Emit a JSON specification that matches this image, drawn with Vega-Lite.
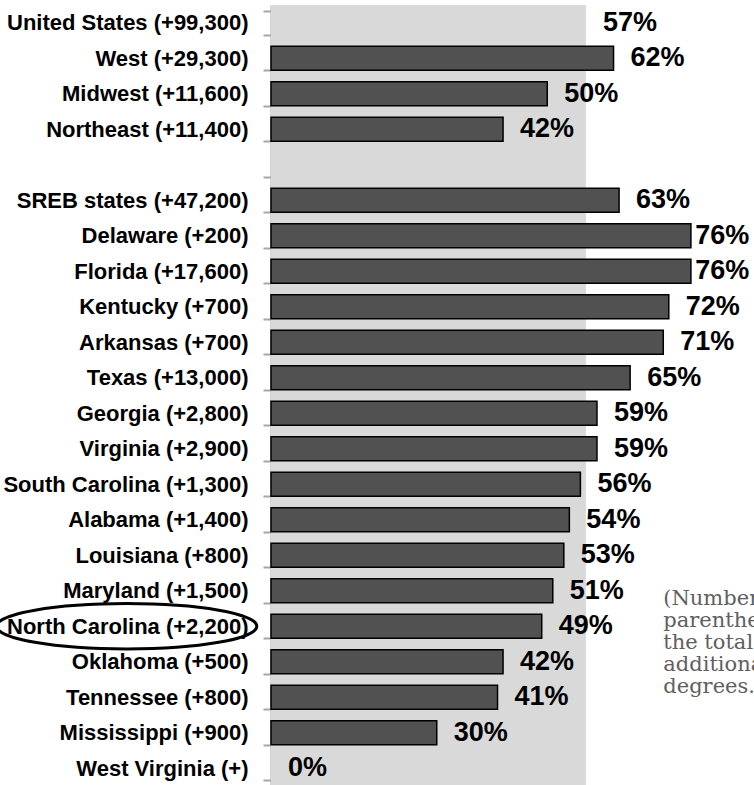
{
  "$schema": "https://vega.github.io/schema/vega-lite/v6.json",
  "width": 442,
  "height": 781,
  "autosize": {"type": "none"},
  "padding": {"left": 271, "top": 5, "right": 41, "bottom": 0},
  "background": "white",
  "config": {"view": {"stroke": null}, "font": "Liberation Sans"},
  "data": {
    "values": [
      {"label": "United States (+99,300)", "pct": 0.57, "zero": 0, "kind": "us"},
      {"label": "West (+29,300)", "pct": 0.62, "zero": 0, "kind": "row"},
      {"label": "Midwest (+11,600)", "pct": 0.50, "zero": 0, "kind": "row"},
      {"label": "Northeast (+11,400)", "pct": 0.42, "zero": 0, "kind": "row"},
      {"label": " ", "pct": null, "zero": 0, "kind": "blank"},
      {"label": "SREB states (+47,200)", "pct": 0.63, "zero": 0, "kind": "row"},
      {"label": "Delaware (+200)", "pct": 0.76, "zero": 0, "kind": "row"},
      {"label": "Florida (+17,600)", "pct": 0.76, "zero": 0, "kind": "row"},
      {"label": "Kentucky (+700)", "pct": 0.72, "zero": 0, "kind": "row"},
      {"label": "Arkansas (+700)", "pct": 0.71, "zero": 0, "kind": "row"},
      {"label": "Texas (+13,000)", "pct": 0.65, "zero": 0, "kind": "row"},
      {"label": "Georgia (+2,800)", "pct": 0.59, "zero": 0, "kind": "row"},
      {"label": "Virginia (+2,900)", "pct": 0.59, "zero": 0, "kind": "row"},
      {"label": "South Carolina (+1,300)", "pct": 0.56, "zero": 0, "kind": "row"},
      {"label": "Alabama (+1,400)", "pct": 0.54, "zero": 0, "kind": "row"},
      {"label": "Louisiana (+800)", "pct": 0.53, "zero": 0, "kind": "row"},
      {"label": "Maryland (+1,500)", "pct": 0.51, "zero": 0, "kind": "row"},
      {"label": "North Carolina (+2,200)", "pct": 0.49, "zero": 0, "kind": "row"},
      {"label": "Oklahoma (+500)", "pct": 0.42, "zero": 0, "kind": "row"},
      {"label": "Tennessee (+800)", "pct": 0.41, "zero": 0, "kind": "row"},
      {"label": "Mississippi (+900)", "pct": 0.30, "zero": 0, "kind": "row"},
      {"label": "West Virginia (+)", "pct": 0.0, "zero": 0, "kind": "row"}
    ]
  },
  "layer": [
    {
      "transform": [{"filter": "datum.kind == 'us'"}],
      "mark": {"type": "rect", "color": "#d9d9d9"},
      "encoding": {
        "x": {"field": "zero", "type": "quantitative", "scale": {"domain": [0, 0.8]}, "axis": null},
        "x2": {"field": "pct"}
      }
    },
    {
      "transform": [{"filter": "datum.kind == 'row' && datum.pct > 0"}],
      "mark": {"type": "bar", "color": "#515151", "stroke": "black", "strokeWidth": 1.5},
      "encoding": {
        "x": {"field": "pct", "type": "quantitative", "scale": {"domain": [0, 0.8]}, "axis": null},
        "y": {
          "field": "label",
          "type": "nominal",
          "sort": null,
          "scale": {
            "domain": ["United States (+99,300)", "West (+29,300)", "Midwest (+11,600)", "Northeast (+11,400)", " ", "SREB states (+47,200)", "Delaware (+200)", "Florida (+17,600)", "Kentucky (+700)", "Arkansas (+700)", "Texas (+13,000)", "Georgia (+2,800)", "Virginia (+2,900)", "South Carolina (+1,300)", "Alabama (+1,400)", "Louisiana (+800)", "Maryland (+1,500)", "North Carolina (+2,200)", "Oklahoma (+500)", "Tennessee (+800)", "Mississippi (+900)", "West Virginia (+)"],
            "paddingInner": 0.33,
            "paddingOuter": 0.165
          },
          "axis": {
            "title": null,
            "labelFont": "Liberation Sans",
            "labelFontSize": 22,
            "labelFontWeight": "bold",
            "labelColor": "black",
            "labelPadding": 15,
            "labelLimit": 400,
            "tickSize": 8,
            "tickColor": "#a6a6a6",
            "tickWidth": 2,
            "domainColor": "#a6a6a6",
            "domainWidth": 2,
            "tickBand": "extent",
            "grid": false
          }
        }
      }
    },
    {
      "transform": [
        {"filter": "datum.kind != 'blank'"},
        {"calculate": "min(datum.pct, 0.737)", "as": "labelPos"}
      ],
      "mark": {"type": "text", "align": "left", "baseline": "middle", "dx": 17, "fontSize": 27, "fontWeight": "bold", "color": "black", "font": "Liberation Sans"},
      "encoding": {
        "x": {"field": "labelPos", "type": "quantitative"},
        "y": {"field": "label", "type": "nominal", "sort": null},
        "text": {"field": "pct", "type": "quantitative", "format": ".0%"}
      }
    },
    {
      "transform": [{"filter": "datum.label == 'North Carolina (+2,200)'"}],
      "mark": {"type": "point", "shape": "M -1 0 A 1 0.175 0 1 0 1 0 A 1 0.175 0 1 0 -1 0 Z", "size": 67600, "filled": false, "stroke": "black", "strokeWidth": 3, "opacity": 1},
      "encoding": {
        "x": {"datum": -0.261, "type": "quantitative"},
        "y": {"field": "label", "type": "nominal", "sort": null}
      }
    },
    {
      "transform": [{"filter": "datum.label == 'Maryland (+1,500)'"}],
      "mark": {"type": "text", "align": "left", "baseline": "alphabetic", "dy": 14, "font": "DejaVu Serif", "fontSize": 21, "lineHeight": 22, "color": "#606060", "text": ["(Numbers in", "parentheses are", "the total", "additional", "degrees.)"]},
      "encoding": {
        "x": {"datum": 0.71, "type": "quantitative"},
        "y": {"field": "label", "type": "nominal", "sort": null}
      }
    }
  ]
}
